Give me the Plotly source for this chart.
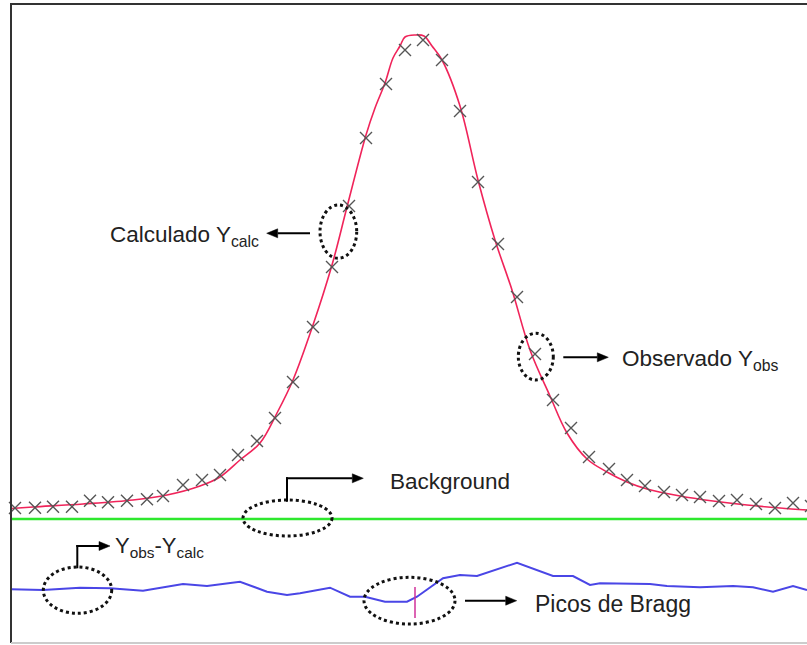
import plotly.graph_objects as go

# ---- data (x in channel units, y in intensity units) ----
obs_x = [15, 35, 53, 72, 90, 108, 127, 147, 163, 183, 202, 220, 238, 257, 275,
         293, 313, 332, 349, 366, 386, 405, 423, 442, 460, 478, 498, 517, 535, 553,
         571, 589, 609, 627, 645, 664, 682, 700, 719, 737, 756, 775, 793, 811]
obs_y = [137, 137.3, 138.3, 138.3, 144.3, 142.7, 144.3, 145.7, 149, 160, 165, 170, 190, 204, 227,
         263, 318, 378, 439, 507, 561, 595, 605, 585, 534, 463, 401, 348, 291, 245,
         217, 188, 176, 165, 159, 153, 150, 148, 144, 145, 141, 137, 142, 139]

calc_x = [11, 33, 83, 133, 167, 200, 220, 240, 260, 277, 293, 313, 332, 347, 366, 375,
          385, 393, 400, 405, 415, 424, 432, 442, 460, 478, 495, 512, 530, 550, 567,
          587, 607, 627, 647, 680, 713, 747, 780, 807]
calc_y = [136.5, 138, 141, 145, 150, 159, 168, 185, 202, 232, 265, 320, 380, 438, 510, 537,
          562, 587, 599, 608, 610, 609, 599, 585, 539, 465, 405, 355, 295, 249, 212,
          186, 173, 163, 156, 149, 144, 140, 137, 135]

bg_x = [11, 807]
bg_y = [126, 126]

diff_x = [11, 43, 80, 110, 143, 183, 207, 240, 267, 287, 300, 330, 350, 365, 385, 407, 417,
          443, 460, 477, 517, 553, 573, 590, 600, 650, 667, 700, 733, 753, 773, 793, 807]
diff_y = [55.7, 55, 57.3, 56.7, 54.3, 61, 59, 63.3, 53.3, 50, 51.7, 57.3, 48.3, 48.3, 43.3, 43.3, 48.3,
          66.7, 70, 69, 82.3, 69, 69, 60, 61.7, 61, 59, 57.7, 59, 57.7, 53.3, 59, 55]

bragg_x = [415]
bragg_y = [42.5]

FONT = "Arial, 'Liberation Sans', sans-serif"

fig = go.Figure()
fig.add_trace(go.Scatter(x=bg_x, y=bg_y, mode="lines",
                         line=dict(color="#2ee82e", width=2.5), hoverinfo="skip"))
fig.add_trace(go.Scatter(x=diff_x, y=diff_y, mode="lines",
                         line=dict(color="#4a46e6", width=2), hoverinfo="skip"))
fig.add_trace(go.Scatter(x=bragg_x, y=bragg_y, mode="markers",
                         marker=dict(symbol="line-ns", size=22,
                                     line=dict(color="#d0309a", width=1.5)),
                         hoverinfo="skip"))
fig.add_trace(go.Scatter(x=calc_x, y=calc_y, mode="lines", line_shape="spline",
                         line=dict(color="#f0245a", width=1.6), hoverinfo="skip"))
fig.add_trace(go.Scatter(x=obs_x, y=obs_y, mode="markers",
                         marker=dict(symbol="x-thin", size=12,
                                     line=dict(color="#555555", width=1.4)),
                         hoverinfo="skip"))

shapes = []
# frame (paper coordinates)
W_PX, H_PX = 807.0, 645.0
shapes.append(dict(type="line", xref="paper", yref="paper", x0=11 / W_PX, x1=11 / W_PX,
                   y0=2 / H_PX, y1=1 - 3 / H_PX, line=dict(color="#333333", width=2)))
shapes.append(dict(type="line", xref="paper", yref="paper", x0=10 / W_PX, x1=1,
                   y0=1 - 4 / H_PX, y1=1 - 4 / H_PX, line=dict(color="#333333", width=2)))
shapes.append(dict(type="line", xref="paper", yref="paper", x0=11 / W_PX, x1=1,
                   y0=2 / H_PX, y1=2 / H_PX, line=dict(color="#cccccc", width=2)))
# dotted ellipses
dot = dict(color="#111111", width=3, dash="dot")
for (x0, x1, y0, y1) in [(320, 356.7, 386.7, 440), (518.3, 553.3, 265, 311.7),
                         (243, 332, 109, 145), (43.3, 111.7, 31.7, 78), (364, 455, 21, 67.7)]:
    shapes.append(dict(type="circle", x0=x0, x1=x1, y0=y0, y1=y1, line=dot))
# elbow verticals
shapes.append(dict(type="line", x0=287, x1=287, y0=143.3, y1=167.7, line=dict(color="black", width=2)))
shapes.append(dict(type="line", x0=77.3, x1=77.3, y0=76.7, y1=100, line=dict(color="black", width=2)))


def arrow(x, y, ax):
    # horizontal arrow from ax to head at x (drawn as line + filled triangle)
    d = 1 if x > ax else -1
    L, W = 11, 4.5
    base = x - d * L
    shapes.append(dict(type="line", x0=ax, x1=base, y0=y, y1=y, line=dict(color="black", width=2)))
    shapes.append(dict(type="path",
                       path=f"M {x},{y} L {base},{y + W} L {base},{y - W} Z",
                       fillcolor="black", line=dict(color="black", width=0.5)))


arrow(266.7, 411.7, 310)
arrow(608.3, 287.7, 563.3)
arrow(363.3, 166.7, 286)
arrow(110, 99, 76.3)
arrow(516.7, 44.3, 465)

anns = []


def label(x, y, txt, size=22.5):
    anns.append(dict(x=x, y=y, xref="x", yref="y", text=txt, showarrow=False,
                     xanchor="left", yanchor="middle",
                     font=dict(family=FONT, size=size, color="#222222")))


label(108, 645 - 236, "Calculado Y<sub>calc</sub>")
label(620, 645 - 360, "Observado Y<sub>obs</sub>")
label(388, 645 - 481, "Background")
label(113, 645 - 547, "Y<sub>obs</sub>-Y<sub>calc</sub>", 22)
label(533, 645 - 604, "Picos de Bragg", 23)

fig.update_layout(width=807, height=645, margin=dict(l=0, r=0, t=0, b=0),
                  paper_bgcolor="white", plot_bgcolor="white", showlegend=False,
                  shapes=shapes, annotations=anns,
                  xaxis=dict(range=[0, 807], visible=False, fixedrange=True),
                  yaxis=dict(range=[0, 645], visible=False, fixedrange=True))

fig.write_html("out.html", config={"displayModeBar": False},
               post_script="document.body.style.margin='0';document.body.style.padding='0';"
                           "document.body.style.overflow='hidden';")
